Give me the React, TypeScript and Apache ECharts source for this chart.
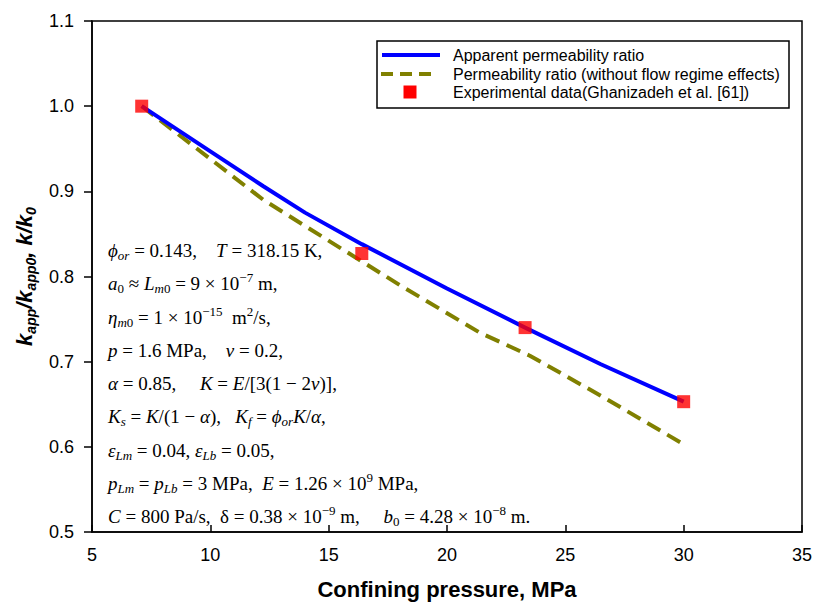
import React, { useEffect, useRef } from "react";
import * as echarts from "echarts";

// ---- data ----
const apparentX = [7.1, 10, 12.24, 14, 16.4, 20, 23.3, 26.5, 30];
const apparentY = [1.0, 0.947, 0.906, 0.875, 0.838, 0.786, 0.74, 0.697, 0.653];
const noFlowX = [7.1, 10, 12.24, 15.06, 18, 21.39, 23.5, 26.5, 30];
const noFlowY = [1.0, 0.938, 0.89, 0.841, 0.79, 0.734, 0.707, 0.66, 0.603];
const expX = [7.1, 16.4, 23.3, 30];
const expY = [1.0, 0.827, 0.74, 0.653];
const legendNames = [
  "Apparent permeability ratio",
  "Permeability ratio (without flow regime effects)",
  "Experimental data(Ghanizadeh et al. [61])",
];
const xTitle = "Confining pressure, MPa";
const yTitle = "{b|k}{s|app}{b|/k}{s|app0}{b|, k/k}{s|0}";

// annotation lines: [style, text] segments
type Seg = [string, string];
const noteLines: Seg[][] = [
  [["i", "ϕ"], ["si", "or"], ["n", " = 0.143,    "], ["i", "T"], ["n", " = 318.15 K,"]],
  [["i", "a"], ["sn", "0"], ["n", " ≈ "], ["i", "L"], ["si", "m"], ["sn", "0"], ["n", " = 9 × 10"], ["p", "−7"], ["n", " m,"]],
  [["i", "η"], ["si", "m"], ["sn", "0"], ["n", " = 1 × 10"], ["p", "−15"], ["n", "  m"], ["p", "2"], ["n", "/s,"]],
  [["i", "p"], ["n", " = 1.6 MPa,    "], ["i", "ν"], ["n", " = 0.2,"]],
  [["i", "α"], ["n", " = 0.85,     "], ["i", "K"], ["n", " = "], ["i", "E"], ["n", "/[3(1 − 2"], ["i", "ν"], ["n", ")],"]],
  [["i", "K"], ["si", "s"], ["n", " = "], ["i", "K"], ["n", "/(1 − "], ["i", "α"], ["n", "),   "], ["i", "K"], ["si", "f"], ["n", " = "], ["i", "ϕ"], ["si", "or"], ["i", "K"], ["n", "/"], ["i", "α"], ["n", ","]],
  [["i", "ε"], ["si", "Lm"], ["n", " = 0.04, "], ["i", "ε"], ["si", "Lb"], ["n", " = 0.05,"]],
  [["i", "p"], ["si", "Lm"], ["n", " = "], ["i", "p"], ["si", "Lb"], ["n", " = 3 MPa,  "], ["i", "E"], ["n", " = 1.26 × 10"], ["p", "9"], ["n", " MPa,"]],
  [["i", "C"], ["n", " = 800 Pa/s,  δ = 0.38 × 10"], ["p", "−9"], ["n", " m,     "], ["i", "b"], ["sn", "0"], ["n", " = 4.28 × 10"], ["p", "−8"], ["n", " m."]],
];
const noteY = [250, 283, 317, 350, 383, 416, 450, 483, 516];

const zip = (xs: number[], ys: number[]) => xs.map((x, i) => [x, ys[i]]);

export default function App() {
  const ref = useRef<HTMLDivElement>(null);
  useEffect(() => {
    document.body.style.margin = "0";
    if (!ref.current) return;
    const chart = echarts.init(ref.current, null, { renderer: "svg" });
    const serif = "'Liberation Serif', 'DejaVu Serif', serif";
    const sans = "'Liberation Sans', Arial, sans-serif";
    const fs = 19;
    const rich = {
      i: { fontFamily: serif, fontSize: fs, fontStyle: "italic", lineHeight: 24, verticalAlign: "middle", fill: "#000" },
      n: { fontFamily: serif, fontSize: fs, lineHeight: 24, verticalAlign: "middle", fill: "#000" },
      si: { fontFamily: serif, fontSize: 13, fontStyle: "italic", lineHeight: 12, verticalAlign: "bottom", fill: "#000" },
      sn: { fontFamily: serif, fontSize: 13, lineHeight: 12, verticalAlign: "bottom", fill: "#000" },
      p: { fontFamily: serif, fontSize: 13, lineHeight: 12, verticalAlign: "top", fill: "#000" },
    };
    const noteGraphics = noteLines.map((segs, k) => ({
      type: "text",
      x: 108,
      y: noteY[k],
      z: 10,
      style: {
        text: segs.map(([s, t]) => `{${s}|${t}}`).join(""),
        rich,
        align: "left",
        verticalAlign: "middle",
      },
    }));
    const legendTop = 41;
    const rowY = [55, 74, 92];
    const legendGraphics: any[] = [
      {
        type: "rect",
        shape: { x: 377, y: legendTop, width: 412, height: 67 },
        style: { fill: "#fff", stroke: "#000", lineWidth: 1.5 },
        z: 20,
      },
      {
        type: "line",
        shape: { x1: 382, y1: rowY[0], x2: 440, y2: rowY[0] },
        style: { stroke: "#0000FF", lineWidth: 4 },
        z: 21,
      },
      {
        type: "line",
        shape: { x1: 381, y1: rowY[1], x2: 431, y2: rowY[1] },
        style: { stroke: "#808000", lineWidth: 4, lineDash: [12, 7] },
        z: 21,
      },
      {
        type: "rect",
        shape: { x: 403.5, y: rowY[2] - 6.5, width: 13, height: 13 },
        style: { fill: "#FF0000" },
        z: 21,
      },
      ...legendNames.map((n, k) => ({
        type: "text",
        x: 453,
        y: rowY[k],
        z: 21,
        style: { text: n, fontFamily: sans, fontSize: 16, fill: "#000", align: "left", verticalAlign: "middle" },
      })),
    ];

    chart.setOption({
      animation: false,
      backgroundColor: "#fff",
      grid: {
        left: 92,
        right: 11,
        top: 21,
        bottom: 70,
        show: true,
        borderColor: "#000",
        borderWidth: 1.5,
        outerBoundsMode: "none",
      },
      xAxis: {
        type: "value",
        min: 5,
        max: 35,
        interval: 5,
        name: xTitle,
        nameLocation: "middle",
        nameGap: 46,
        nameTextStyle: { fontFamily: sans, fontSize: 22, fontWeight: "bold", color: "#000" },
        axisLine: { show: true, lineStyle: { color: "#000", width: 1.5 } },
        axisTick: { show: true, inside: true, length: 7, lineStyle: { color: "#000", width: 1.5 } },
        axisLabel: { fontFamily: sans, fontSize: 18, color: "#000", margin: 14 },
        splitLine: { show: false },
      },
      yAxis: {
        type: "value",
        min: 0.5,
        max: 1.1,
        interval: 0.1,
        name: yTitle,
        nameLocation: "middle",
        nameGap: 54,
        nameTextStyle: {
          rich: {
            b: { fontFamily: sans, fontSize: 22, fontWeight: "bold", fontStyle: "italic", color: "#000", lineHeight: 28, verticalAlign: "middle" },
            s: { fontFamily: sans, fontSize: 14, fontWeight: "bold", fontStyle: "italic", color: "#000", lineHeight: 14, verticalAlign: "bottom" },
          },
        },
        axisLine: { show: true, lineStyle: { color: "#000", width: 1.5 } },
        axisTick: { show: true, inside: false, length: 8, lineStyle: { color: "#000", width: 1.5 } },
        axisLabel: {
          fontFamily: sans,
          fontSize: 18,
          color: "#000",
          margin: 18,
          formatter: (v: number) => v.toFixed(1),
        },
        splitLine: { show: false },
      },
      series: [
        {
          name: legendNames[0],
          type: "line",
          data: zip(apparentX, apparentY),
          symbol: "none",
          lineStyle: { color: "#0000FF", width: 4 },
          z: 3,
        },
        {
          name: legendNames[1],
          type: "line",
          data: zip(noFlowX, noFlowY),
          symbol: "none",
          lineStyle: { color: "#808000", width: 4, type: [15, 8] },
          z: 2,
        },
        {
          name: legendNames[2],
          type: "scatter",
          data: zip(expX, expY),
          symbol: "rect",
          symbolSize: 13,
          itemStyle: { color: "#FF0000" },
          z: 5,
        },
      ],
      graphic: [...noteGraphics, ...legendGraphics],
    });
    return () => chart.dispose();
  }, []);
  return <div ref={ref} style={{ width: 813, height: 602 }} />;
}
